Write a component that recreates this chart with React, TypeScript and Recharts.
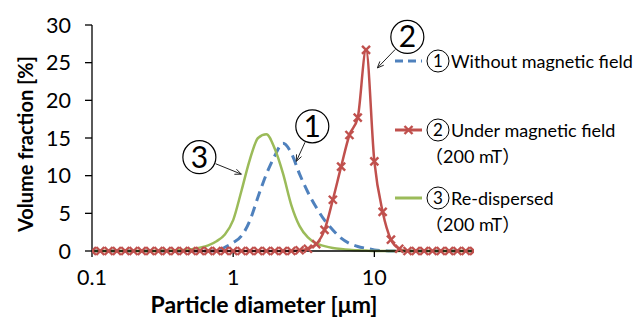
import { LineChart, Line, XAxis, YAxis, ReferenceDot } from "recharts"

// particle size classes [µm], 17 per decade
const sizes = [
  0.1, 0.1145, 0.1311, 0.1501, 0.1719, 0.1968, 0.2253, 0.2581, 0.2955, 0.3383,
  0.3874, 0.4437, 0.508, 0.5817, 0.6661, 0.7627, 0.8733, 1, 1.145, 1.311,
  1.501, 1.719, 1.968, 2.253, 2.581, 2.955, 3.383, 3.874, 4.437, 5.08,
  5.817, 6.661, 7.627, 8.733, 10, 11.45, 13.11, 15.01, 17.19, 19.68,
  22.53, 25.81, 29.55, 33.83, 38.74, 44.37, 50.8,
]

// (1) without magnetic field
const withoutField = [
  0, 0, 0, 0, 0, 0, 0, 0, 0, 0,
  0, 0, 0, 0, 0, 0.05, 0.5, 1.1, 2.0, 4.0,
  7.2, 10.2, 12.6, 14.3, 13.0, 10.2, 7.8, 5.8, 4.1, 2.8,
  1.7, 1.0, 0.6, 0.36, 0.15, 0.05, 0, 0, 0, 0,
  0, 0, 0, 0, 0, 0, 0,
]

// (2) under magnetic field (200 mT)
const underField = [
  0, 0, 0, 0, 0, 0, 0, 0, 0, 0,
  0, 0, 0, 0, 0, 0, 0, 0, 0, 0,
  0, 0, 0, 0, 0, 0.1, 0.3, 0.9, 2.8, 6.8,
  11.2, 15.4, 17.7, 26.7, 11.9, 5.2, 1.5, 0.3, 0, 0,
  0, 0, 0, 0, 0, 0, 0,
]

// (3) re-dispersed (200 mT)
const redispersed = [
  0, 0, 0, 0, 0, 0, 0, 0, 0, 0.03,
  0.06, 0.12, 0.25, 0.45, 0.75, 1.3, 2.2, 4.1, 8.0, 12.1,
  15.0, 15.5, 13.6, 10.3, 6.1, 3.3, 1.8, 1.0, 0.65, 0.4,
  0.25, 0.15, 0.1, 0.05, 0, 0, 0, 0, 0, 0,
  0, 0, 0, 0, 0, 0, 0,
]

const xTicks = [0.1, 1, 10]
const yTicks = [0, 5, 10, 15, 20, 25, 30]

// arrow targets of the circled callouts, in data units
const callouts = [
  { label: "1", x: 2.8, y: 11.9 },
  { label: "2", x: 10.5, y: 24.3 },
  { label: "3", x: 1.143, y: 10.2 },
]
const calloutOffset: Record<string, [number, number]> = {
  "1": [16, -35],
  "2": [30, -31],
  "3": [-42, -17],
}

const BLUE = "#4F81BD"
const RED = "#C0504D"
const GREEN = "#9BBB59"
const FONT = 'Lato, "Noto Sans CJK JP", sans-serif'

const data = sizes.map((d, i) => ({
  d,
  a: withoutField[i],
  b: underField[i],
  c: redispersed[i],
}))

function CrossDot(props: any) {
  const { cx, cy } = props
  if (cx == null || cy == null) return null
  const s = 4
  return (
    <g stroke={RED} strokeWidth={2.4}>
      <line x1={cx - s} y1={cy - s} x2={cx + s} y2={cy + s} />
      <line x1={cx - s} y1={cy + s} x2={cx + s} y2={cy - s} />
    </g>
  )
}

function Callout(props: any) {
  const { cx, cy, label } = props
  const [ox, oy] = calloutOffset[label]
  const ccx = cx + ox
  const ccy = cy + oy
  const r = 16.5
  const len = Math.hypot(ox, oy)
  const ux = -ox / len
  const uy = -oy / len
  const sx = ccx + ux * (r + 1)
  const sy = ccy + uy * (r + 1)
  // arrow head
  const ah = 7
  const ang = Math.atan2(uy, ux)
  const h1x = cx - ah * Math.cos(ang - 0.4)
  const h1y = cy - ah * Math.sin(ang - 0.4)
  const h2x = cx - ah * Math.cos(ang + 0.4)
  const h2y = cy - ah * Math.sin(ang + 0.4)
  return (
    <g>
      <line x1={sx} y1={sy} x2={cx} y2={cy} stroke="#222" strokeWidth={1} />
      <polyline points={`${h1x},${h1y} ${cx},${cy} ${h2x},${h2y}`} fill="none" stroke="#222" strokeWidth={1} />
      <circle cx={ccx} cy={ccy} r={r} fill="#fff" stroke="#000" strokeWidth={1.2} />
      <text x={ccx} y={ccy + 10.5} textAnchor="middle" fontSize={30} fontFamily={FONT} fill="#000">
        {label}
      </text>
    </g>
  )
}

function XTitle(props: any) {
  const { viewBox } = props
  return (
    <text x={viewBox.x + viewBox.width / 2 - 19} y={viewBox.y + 62} textAnchor="middle" fontSize={23} fontWeight="bold" fontFamily={FONT} fill="#000">
      Particle diameter [μm]
    </text>
  )
}

function YTitle() {
  return (
    <text x={0} y={0} transform="translate(33,144) rotate(-90)" textAnchor="middle" fontSize={20} fontWeight="bold" fontFamily={FONT} fill="#000">
      Volume fraction [%]
    </text>
  )
}

function LegendRow({ top, color, dash, marker, mark, lines }: any) {
  return (
    <div style={{ position: "absolute", left: 394, top }}>
      <svg width={60} height={26} style={{ position: "absolute", left: 0, top: -1 }}>
        <line x1={1} y1={13} x2={28} y2={13} stroke={color} strokeWidth={3} strokeDasharray={dash} />
        {marker && (
          <g stroke={color} strokeWidth={2.4}>
            <line x1={10.5} y1={9} x2={18.5} y2={17} />
            <line x1={10.5} y1={17} x2={18.5} y2={9} />
          </g>
        )}
        <circle cx={44} cy={13} r={11} fill="none" stroke="#000" strokeWidth={1} />
        <text x={44} y={19} textAnchor="middle" fontSize={17} fontFamily={FONT} fill="#000">
          {mark}
        </text>
      </svg>
      {lines.map((t: string, i: number) => (
        <div key={i} style={{ position: "absolute", left: i === 0 ? 57 : 31, top: i * 26, whiteSpace: "nowrap", fontSize: 18, lineHeight: "24px", color: "#000" }}>
          {t}
        </div>
      ))}
    </div>
  )
}

export default function App() {
  return (
    <div style={{ position: "absolute", left: 0, top: 0, width: 640, height: 320, background: "#fff", fontFamily: FONT }}>
      <LineChart width={640} height={320} data={data} margin={{ top: 25, right: 166, bottom: 0, left: 0 }}>
        <XAxis
          dataKey="d"
          type="number"
          scale="log"
          domain={[0.1, 50.8]}
          ticks={xTicks}
          tickFormatter={(v) => String(v)}
          allowDataOverflow
          height={69}
          stroke="#000"
          strokeWidth={1.3}
          tickSize={6}
          tickMargin={13}
          tick={{ fill: "#000", fontSize: 21.5, fontFamily: FONT }}
          label={<XTitle />}
        />
        <YAxis
          type="number"
          domain={[0, 30]}
          ticks={yTicks}
          width={92}
          stroke="#000"
          strokeWidth={1.3}
          tickSize={7}
          tickMargin={14}
          tick={{ fill: "#000", fontSize: 21.5, fontFamily: FONT }}
          label={<YTitle />}
        />
        <Line dataKey="a" type="monotone" stroke={BLUE} strokeWidth={3} strokeDasharray="10 6" dot={false} isAnimationActive={false} />
        <Line dataKey="b" type="monotone" stroke={RED} strokeWidth={2.5} dot={<CrossDot />} activeDot={false} isAnimationActive={false} />
        <Line dataKey="c" type="monotone" stroke={GREEN} strokeWidth={2.5} dot={false} isAnimationActive={false} />
        {callouts.map((c) => (
          <ReferenceDot key={c.label} x={c.x} y={c.y} r={0} shape={(p: any) => <Callout {...p} label={c.label} />} />
        ))}
      </LineChart>
      <LegendRow top={49} color={BLUE} dash="8 5" mark="1" lines={["Without magnetic field"]} />
      <LegendRow top={118} color={RED} marker mark="2" lines={["Under magnetic field", "（200 mT）"]} />
      <LegendRow top={186} color={GREEN} mark="3" lines={["Re-dispersed", "（200 mT）"]} />
    </div>
  )
}
